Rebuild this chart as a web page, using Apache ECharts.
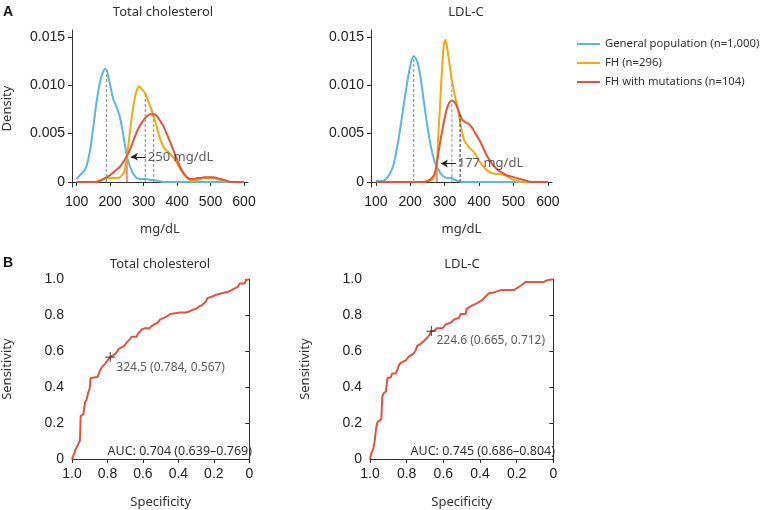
<!DOCTYPE html>
<html><head><meta charset="utf-8">
<script src="https://cdn.jsdelivr.net/npm/echarts@6/dist/echarts.min.js"></script>
<style>html,body{margin:0;padding:0;background:#fff}#c{width:763px;height:510px}</style>
</head><body><div id="c"></div><script>
// ---------- Panel A: density curves (mg/dL vs density) ----------
const seriesNames = ['General population (n=1,000)', 'FH (n=296)', 'FH with mutations (n=104)'];

const tcGenX = [100,110,120,125,130,140,150,160,170,180,186,192,200,210,220,230,240,250,260,270,280,290,300,310,320,330,340,350,360,400,450,500,550,600];
const tcGenY = [.0003,.0007,.0011,.0013,.0017,.0033,.0058,.0084,.0104,.0115,.0117,.0113,.0100,.0085,.0077,.0066,.0047,.0027,.0015,.0008,.0004,.0003,.0003,.0003,.0002,.0002,.0001,.00005,0,0,0,0,0,0];

const tcFhX = [160,170,180,190,200,210,220,230,240,245,250,255,260,265,270,275,280,286,292,300,306,310,320,330,340,350,360,370,380,390,400,410,420,430,440,450,460,470,480,490,500,510,520,530,540,550];
const tcFhY = [.0001,.0002,.0003,.0004,.0004,.0004,.0004,.0005,.0009,.0015,.0026,.0040,.0054,.0068,.0080,.0089,.0095,.0099,.0097,.0094,.0091,.0087,.0078,.0068,.0056,.0044,.0036,.0032,.0029,.0025,.0019,.0013,.0008,.0004,.0002,.0002,.0002,.0003,.0004,.0004,.0004,.0004,.0003,.0002,.0001,0];

const tcMutX = [100,150,160,170,180,190,200,210,220,230,240,250,260,270,280,290,300,310,320,330,340,350,360,370,380,390,400,410,420,430,440,450,460,470,480,490,500,510,520,530,540,550,560,600];
const tcMutY = [0,0,0,.0001,.0003,.0005,.0007,.0010,.0013,.0016,.0021,.0027,.0034,.0043,.0052,.0059,.0064,.0068,.0070,.0070,.0068,.0063,.0057,.0049,.0041,.0032,.0023,.0015,.0009,.0005,.0003,.0003,.0004,.0004,.0005,.0005,.0005,.0005,.0004,.0003,.0002,.0001,0,0];

const ldlGenX = [100,110,120,130,140,150,160,170,180,190,200,210,220,230,240,250,260,270,280,290,300,310,320,330,340,350,400,500,600];
const ldlGenY = [.0001,.0001,.0001,.0003,.0008,.0016,.0032,.0053,.0077,.0100,.0120,.0130,.0125,.0108,.0082,.0057,.0037,.0022,.0014,.0008,.0005,.0004,.0004,.0002,.0001,0,0,0,0];

const ldlFhX = [240,250,260,266,272,277,281,286,291,297,302,308,315,321,328,337,346,356,370,385,400,420,440,460,475,490,510,530,540];
const ldlFhY = [0,.0001,.0002,.0003,.0008,.0018,.0045,.0075,.0108,.0140,.0147,.0137,.0120,.0105,.0092,.0078,.0060,.0044,.0036,.0031,.0022,.0013,.0009,.0008,.0007,.0004,.0001,0,0];

const ldlMutX = [100,240,250,260,270,277,285,295,305,312,320,328,336,344,352,360,370,380,390,400,410,420,430,440,450,460,470,480,490,500,510,520,530,540,550,600];
const ldlMutY = [0,0,.0001,.0003,.0008,.0019,.0037,.0057,.0074,.0081,.0084,.0083,.0078,.0070,.0064,.0062,.0060,.0056,.0050,.0044,.0037,.0029,.0023,.0018,.0014,.0011,.0009,.0007,.0006,.0005,.0004,.0003,.0002,.0001,0,0];

// reference lines (x value, height)
const tcDashX = [189, 305, 330];
const tcDashH = [.0116, .0091, .0069];
const ldlDashX = [210, 321, 345];
const ldlDashH = [.0130, .0104, .0071];
const tcCut = 250, tcCutH = .0026;
const ldlCut = 277, ldlCutH = .0019;
const tcCutLabel = '250 mg/dL';
const ldlCutLabel = '177 mg/dL';

const densXTicks = [100, 200, 300, 400, 500, 600];
const densYTicks = [0, 0.005, 0.010, 0.015];

// ---------- Panel B: ROC curves (specificity, sensitivity) ----------
const tcSpec = [1.0,0.995,0.987,0.982,0.973,0.964,0.955,0.951,0.936,0.927,0.918,0.909,0.9,0.896,0.885,0.855,0.845,0.836,0.827,0.813,0.8,0.784,0.773,0.755,0.745,0.736,0.718,0.704,0.691,0.673,0.664,0.636,0.627,0.618,0.605,0.591,0.564,0.551,0.536,0.518,0.504,0.482,0.464,0.445,0.418,0.391,0.355,0.336,0.318,0.3,0.282,0.264,0.245,0.236,0.209,0.191,0.155,0.118,0.1,0.082,0.064,0.055,0.027,0.018,0.005,0];
const tcSens = [0,0,0.031,0.049,0.058,0.085,0.104,0.24,0.249,0.313,0.331,0.367,0.395,0.449,0.458,0.458,0.485,0.504,0.516,0.531,0.549,0.567,0.576,0.585,0.595,0.613,0.622,0.631,0.649,0.667,0.68,0.68,0.698,0.704,0.722,0.727,0.727,0.74,0.749,0.758,0.776,0.785,0.795,0.807,0.811,0.815,0.815,0.822,0.831,0.836,0.849,0.858,0.876,0.895,0.904,0.913,0.922,0.931,0.94,0.949,0.958,0.976,0.976,0.995,1.0,1.0];

const ldlSpec = [1.0,0.993,0.982,0.975,0.967,0.96,0.951,0.938,0.933,0.924,0.913,0.905,0.887,0.878,0.86,0.851,0.842,0.833,0.805,0.787,0.764,0.751,0.742,0.724,0.705,0.687,0.676,0.665,0.651,0.636,0.605,0.587,0.56,0.542,0.515,0.505,0.478,0.473,0.442,0.415,0.387,0.369,0.351,0.324,0.287,0.215,0.178,0.151,0.124,0.051,0.033,0.005,0];
const ldlSens = [0,0.031,0.058,0.095,0.167,0.204,0.213,0.222,0.349,0.367,0.376,0.449,0.455,0.476,0.476,0.495,0.522,0.535,0.549,0.571,0.585,0.604,0.631,0.64,0.658,0.676,0.691,0.712,0.713,0.727,0.727,0.749,0.758,0.776,0.785,0.807,0.807,0.836,0.855,0.867,0.885,0.904,0.922,0.927,0.94,0.94,0.964,0.985,0.985,0.985,0.995,1.0,1.0];

const tcOpt = [0.784, 0.567], ldlOpt = [0.665, 0.712];
const tcOptLabel = '324.5 (0.784, 0.567)';
const ldlOptLabel = '224.6 (0.665, 0.712)';
const tcAuc = 'AUC: 0.704 (0.639\u20130.769)';
const ldlAuc = 'AUC: 0.745 (0.686\u20130.804)';

// ---------- styling ----------
const colors = ['#5BB7DF', '#F4A90E', '#E3533F'];
const cutColor = '#F08A90';
const axisColor = '#333';
const FONT = 'Liberation Sans, Arial, sans-serif';
const TEXT_FONT = 'Noto Sans, sans-serif';

const zip = (a, b) => a.map((v, i) => [v, b[i]]);

function densAxisX(gi) {
  return {
    type: 'value', gridIndex: gi, min: 86, max: 612,
    axisLine: { lineStyle: { color: axisColor } },
    axisTick: { customValues: densXTicks, length: 4, lineStyle: { color: axisColor } },
    axisLabel: { customValues: densXTicks, color: '#222', fontSize: 14, fontFamily: FONT, margin: 8 },
    splitLine: { show: false },
    name: 'mg/dL', nameLocation: 'middle', nameGap: 36,
    nameTextStyle: { color: '#333', fontSize: 13, fontFamily: TEXT_FONT }
  };
}
function densAxisY(gi, withName) {
  return {
    type: 'value', gridIndex: gi, min: -0.00052, max: 0.01572,
    axisLine: { show: true, lineStyle: { color: axisColor } },
    axisTick: { show: true, customValues: densYTicks, length: 4, lineStyle: { color: axisColor } },
    axisLabel: { customValues: densYTicks, color: '#222', fontSize: 14, fontFamily: FONT, margin: 7,
      formatter: v => v === 0 ? '0' : v.toFixed(3) },
    splitLine: { show: false },
    name: withName ? 'Density' : '', nameLocation: 'middle', nameGap: 58,
    nameTextStyle: { color: '#333', fontSize: 13, fontFamily: TEXT_FONT }
  };
}
function rocAxisX(gi) {
  return {
    type: 'value', gridIndex: gi, min: 0, max: 1, interval: 0.2, inverse: true,
    axisLine: { lineStyle: { color: axisColor } },
    axisTick: { length: 4, lineStyle: { color: axisColor } },
    axisLabel: { color: '#222', fontSize: 14, fontFamily: FONT, margin: 8,
      formatter: v => v === 0 ? '0' : v.toFixed(1) },
    splitLine: { show: false },
    name: 'Specificity', nameLocation: 'middle', nameGap: 37,
    nameTextStyle: { color: '#333', fontSize: 13, fontFamily: TEXT_FONT }
  };
}
function rocAxisY(gi) {
  return {
    type: 'value', gridIndex: gi, min: 0, max: 1, interval: 0.2,
    axisLine: { show: true, lineStyle: { color: axisColor } },
    axisTick: { show: true, length: 4, lineStyle: { color: axisColor } },
    axisLabel: { color: '#222', fontSize: 14, fontFamily: FONT, margin: 8,
      formatter: v => v === 0 ? '0' : v.toFixed(1) },
    splitLine: { show: false },
    name: 'Sensitivity', nameLocation: 'middle', nameGap: 58,
    nameTextStyle: { color: '#333', fontSize: 13, fontFamily: TEXT_FONT }
  };
}

function curve(name, xs, ys, color, gi) {
  return { type: 'line', name: name, xAxisIndex: gi, yAxisIndex: gi, data: zip(xs, ys),
    smooth: 0.35, showSymbol: false, symbol: 'none', silent: true,
    lineStyle: { color: color, width: 2 }, itemStyle: { color: color }, z: 3 };
}
function dashes(xs, hs, gi, dashColors) {
  return xs.map((x, i) => ({ type: 'line', xAxisIndex: gi, yAxisIndex: gi, data: [[x, 0], [x, hs[i]]],
    symbol: 'none', silent: true, z: 4,
    lineStyle: { color: dashColors[i], width: 1.2, type: [3, 2] } }));
}
function cutoff(x, h, label, gi) {
  return [
    { type: 'line', xAxisIndex: gi, yAxisIndex: gi, data: [[x, 0], [x, h]], symbol: 'none', silent: true, z: 2,
      lineStyle: { color: cutColor, width: 2 } },
    { type: 'scatter', xAxisIndex: gi, yAxisIndex: gi, data: [[x, h]], symbolSize: 0, silent: true, z: 6,
      label: { show: true, position: 'right', distance: 21, formatter: label, color: '#333', fontSize: 13, fontFamily: TEXT_FONT },
      markLine: { silent: true, symbol: ['none', 'arrow'], symbolSize: [6, 7], animation: false,
        lineStyle: { color: '#222', width: 1, type: 'solid' }, label: { show: false },
        data: [[{ coord: [x + 56, h] }, { coord: [x + 12, h] }]] } }
  ];
}
const plusPath = 'path://M4.4,0h1.2v4.4h4.4v1.2h-4.4v4.4h-1.2v-4.4h-4.4v-1.2h4.4z';
function roc(xs, ys, gi, opt, optLabel, dist) {
  return [
    { type: 'line', xAxisIndex: gi, yAxisIndex: gi, data: zip(xs, ys), symbol: 'none', silent: true,
      lineStyle: { color: colors[2], width: 2 }, z: 3 },
    { type: 'scatter', xAxisIndex: gi, yAxisIndex: gi, data: [opt], symbol: plusPath, symbolSize: 10,
      itemStyle: { color: '#333' }, silent: true, z: 5,
      label: { show: true, position: 'right', distance: dist, offset: [0, 10], formatter: optLabel,
        color: '#333', fontSize: 12, fontFamily: TEXT_FONT } }
  ];
}

const chart = echarts.init(document.getElementById('c'), null, { renderer: 'canvas' });
const series = [
  curve(seriesNames[0], tcGenX, tcGenY, colors[0], 0),
  curve(seriesNames[1], tcFhX, tcFhY, colors[1], 0),
  curve(seriesNames[2], tcMutX, tcMutY, colors[2], 0),
  curve(seriesNames[0], ldlGenX, ldlGenY, colors[0], 1),
  curve(seriesNames[1], ldlFhX, ldlFhY, colors[1], 1),
  curve(seriesNames[2], ldlMutX, ldlMutY, colors[2], 1),
  ...dashes(tcDashX, tcDashH, 0, ['#999', '#999', '#999']),
  ...dashes(ldlDashX, ldlDashH, 1, ['#999', '#aaa', '#555']),
  ...cutoff(tcCut, tcCutH, tcCutLabel, 0),
  ...cutoff(ldlCut, ldlCutH, ldlCutLabel, 1),
  ...roc(tcSpec, tcSens, 2, tcOpt, tcOptLabel, 1),
  ...roc(ldlSpec, ldlSens, 3, ldlOpt, ldlOptLabel, 0)
];

chart.setOption({
  animation: false,
  backgroundColor: '#fff',
  grid: [
    { left: 67, top: 30, width: 181, height: 157 },
    { left: 371, top: 30, width: 181, height: 157 },
    { left: 67, top: 279.3, width: 182.3, height: 183.4 },
    { left: 370, top: 279.3, width: 183.3, height: 183.4 }
  ],
  xAxis: [densAxisX(0), densAxisX(1), rocAxisX(2), rocAxisX(3)],
  yAxis: [densAxisY(0, true), densAxisY(1, false), rocAxisY(2), rocAxisY(3)],
  legend: {
    data: seriesNames, orient: 'vertical', left: 577, top: 34.5, itemGap: 0, padding: 0,
    icon: 'rect', itemWidth: 23, itemHeight: 2, selectedMode: false,
    textStyle: { color: '#333', fontSize: 11.3, fontFamily: TEXT_FONT, lineHeight: 19 }
  },
  graphic: [
    { type: 'text', style: { x: 3, y: 12, text: 'A', fontSize: 14, fontWeight: 'bold', fontFamily: FONT, fill: '#111', verticalAlign: 'middle' } },
    { type: 'text', style: { x: 3, y: 263, text: 'B', fontSize: 14, fontWeight: 'bold', fontFamily: FONT, fill: '#111', verticalAlign: 'middle' } },
    { type: 'text', style: { x: 163, y: 12, text: 'Total cholesterol', align: 'center', verticalAlign: 'middle', fontSize: 13, fontFamily: TEXT_FONT, fill: '#333' } },
    { type: 'text', style: { x: 466, y: 12, text: 'LDL-C', align: 'center', verticalAlign: 'middle', fontSize: 13, fontFamily: TEXT_FONT, fill: '#333' } },
    { type: 'text', style: { x: 160, y: 264, text: 'Total cholesterol', align: 'center', verticalAlign: 'middle', fontSize: 13, fontFamily: TEXT_FONT, fill: '#333' } },
    { type: 'text', style: { x: 462, y: 264, text: 'LDL-C', align: 'center', verticalAlign: 'middle', fontSize: 13, fontFamily: TEXT_FONT, fill: '#333' } },
    { type: 'text', style: { x: 252, y: 451, text: tcAuc, align: 'right', verticalAlign: 'middle', fontSize: 12.5, fontFamily: TEXT_FONT, fill: '#333' } },
    { type: 'text', style: { x: 555, y: 451, text: ldlAuc, align: 'right', verticalAlign: 'middle', fontSize: 12.5, fontFamily: TEXT_FONT, fill: '#333' } }
  ],
  series: series
});
</script></body></html>
